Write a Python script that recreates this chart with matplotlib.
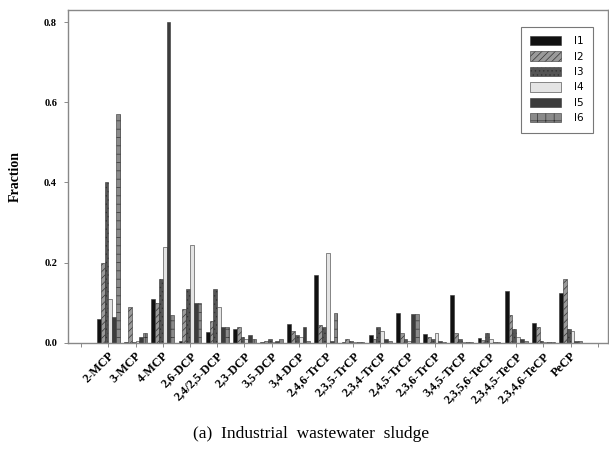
import numpy as np
import matplotlib.pyplot as plt

compounds = ['2-MCP', '3-MCP', '4-MCP', '2,6-DCP', '2,4/2,5-DCP', '2,3-DCP',
             '3,5-DCP', '3,4-DCP', '2,4,6-TrCP', '2,3,5-TrCP', '2,3,4-TrCP',
             '2,4,5-TrCP', '2,3,6-TrCP', '3,4,5-TrCP', '2,3,5,6-TeCP',
             '2,3,4,5-TeCP', '2,3,4,6-TeCP', 'PeCP']

series = ['I1', 'I2', 'I3', 'I4', 'I5', 'I6']

I1 = [0.060, 0.003, 0.110, 0.005, 0.028, 0.035, 0.002, 0.048, 0.170, 0.003,
      0.020, 0.075, 0.022, 0.120, 0.012, 0.130, 0.050, 0.123]
I2 = [0.200, 0.090, 0.100, 0.085, 0.055, 0.040, 0.005, 0.030, 0.045, 0.010,
      0.010, 0.025, 0.015, 0.025, 0.008, 0.070, 0.040, 0.160]
I3 = [0.400, 0.003, 0.160, 0.135, 0.135, 0.015, 0.010, 0.020, 0.040, 0.005,
      0.040, 0.010, 0.010, 0.010, 0.025, 0.035, 0.005, 0.035]
I4 = [0.110, 0.005, 0.240, 0.245, 0.090, 0.010, 0.002, 0.015, 0.225, 0.002,
      0.030, 0.005, 0.025, 0.003, 0.010, 0.015, 0.003, 0.030]
I5 = [0.065, 0.015, 0.800, 0.100, 0.040, 0.020, 0.005, 0.040, 0.005, 0.002,
      0.010, 0.072, 0.005, 0.003, 0.002, 0.010, 0.003, 0.005]
I6 = [0.570, 0.025, 0.070, 0.100, 0.040, 0.010, 0.010, 0.005, 0.075, 0.002,
      0.005, 0.072, 0.003, 0.002, 0.002, 0.005, 0.002, 0.005]

values = [I1, I2, I3, I4, I5, I6]

styles = [
    dict(color='#111111', hatch=None),
    dict(color='#9a9a9a', hatch='/////'),
    dict(color='#555555', hatch='....'),
    dict(color='#e4e4e4', hatch=None),
    dict(color='#3c3c3c', hatch=None),
    dict(color='#8a8a8a', hatch='++'),
]

plt.rcParams['hatch.linewidth'] = 0.5
plt.rcParams['hatch.color'] = '#dddddd'

fig = plt.figure(figsize=(6.09, 4.54), dpi=100)
ax = fig.add_axes([0.112, 0.245, 0.886, 0.733])

x = np.arange(1, len(compounds) + 1)
w = 0.14
for i, (vals, st) in enumerate(zip(values, styles)):
    ax.bar(x + (i - 2.5) * w, vals, width=w, color=st['color'],
           hatch=st['hatch'], edgecolor='#333333', linewidth=0.4,
           label=series[i])

ax.set_xlim(-0.48, 19.37)
ax.set_ylim(0, 0.83)
ax.set_xticks(np.arange(0, len(compounds) + 2))
ax.set_xticklabels([''] + compounds + [''], rotation=45, ha='right',
                   rotation_mode='anchor', fontsize=8.8, fontweight='bold',
                   family='Liberation Serif')
ax.set_yticks([0, 0.2, 0.4, 0.6, 0.8])
ax.set_yticklabels(['0.0', '0.2', '0.4', '0.6', '0.8'], fontsize=7.5,
                   fontweight='bold', family='Liberation Serif')
ax.tick_params(axis='both', length=3, width=0.6, color='#777777', pad=2)
ax.tick_params(axis='y', pad=5)
ax.set_ylabel('Fraction', fontsize=10, fontweight='bold',
              family='Liberation Serif', labelpad=16)
for s in ax.spines.values():
    s.set_color('#888888')
    s.set_linewidth(1.0)

leg = ax.legend(loc='upper right', bbox_to_anchor=(0.982, 0.966), fontsize=7.5,
                handlelength=3.0, handleheight=1.0, labelspacing=0.5,
                fancybox=False, edgecolor='#555555', borderpad=0.9,
                handletextpad=1.2)
leg.get_frame().set_linewidth(0.8)

fig.text(0.51, 0.035, '(a)  Industrial  wastewater  sludge', ha='center',
         fontsize=12.5, family='Liberation Serif')

plt.savefig('out.png', dpi=100)
